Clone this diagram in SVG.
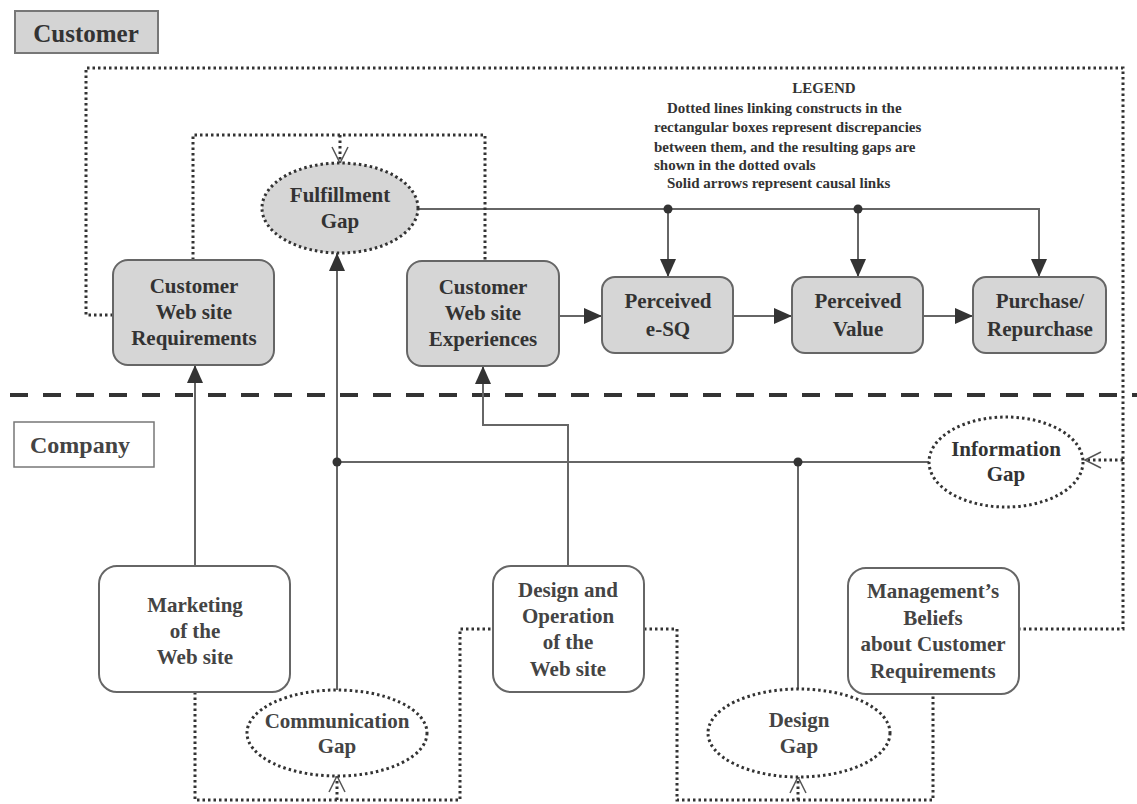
<svg xmlns="http://www.w3.org/2000/svg" width="1137" height="804" viewBox="0 0 1137 804">
<defs>
<style>
.bx{fill:#d6d6d6;stroke:#666;stroke-width:2}
.wb{fill:#fff;stroke:#666;stroke-width:2}
.t{font-family:"Liberation Serif","Times New Roman",serif;font-weight:bold;font-size:21px;fill:#333;text-anchor:middle}
.lg{font-family:"Liberation Serif","Times New Roman",serif;font-weight:bold;font-size:15px;fill:#333}
.sol{fill:none;stroke:#666;stroke-width:2}
.dot{fill:none;stroke:#333;stroke-width:3;stroke-dasharray:2.5 3}
.gapg{fill:#d6d6d6;stroke:#333;stroke-width:3;stroke-dasharray:2.5 3}
.gapw{fill:#fff;stroke:#333;stroke-width:3;stroke-dasharray:2.5 3}
.jn{fill:#333}
</style>
<marker id="ah" markerUnits="userSpaceOnUse" markerWidth="18" markerHeight="16" refX="18" refY="8" orient="auto" viewBox="0 0 18 16">
<path d="M0,0 L18,8 L0,16 z" fill="#333"/>
</marker>
<marker id="oh" markerUnits="userSpaceOnUse" markerWidth="20" markerHeight="18" refX="18" refY="9" orient="auto" viewBox="0 0 20 18">
<path d="M2,1 L18,9 L2,17" fill="none" stroke="#555" stroke-width="1.5"/>
</marker>
</defs>
<rect width="1137" height="804" fill="#fff"/>

<g id="lane-labels">
<rect x="15" y="11" width="143" height="42" fill="#d4d4d4" stroke="#777" stroke-width="2"/>
<text x="86" y="42" class="t" style="font-size:25px">Customer</text>
<rect x="14" y="422" width="140" height="45" fill="#fff" stroke="#777" stroke-width="1.5"/>
<text x="80" y="453" class="t" style="font-size:24px;fill:#444">Company</text>
<line x1="10" y1="395" x2="1137" y2="395" stroke="#333" stroke-width="4" stroke-dasharray="18 15"/>
</g>

<g id="legend">
<text x="824" y="93" class="lg" text-anchor="middle">LEGEND</text>
<text x="667" y="113" class="lg">Dotted lines linking constructs in the</text>
<text x="654" y="132" class="lg">rectangular boxes represent discrepancies</text>
<text x="654" y="152" class="lg">between them, and the resulting gaps are</text>
<text x="654" y="170" class="lg">shown in the dotted ovals</text>
<text x="667" y="188" class="lg">Solid arrows represent causal links</text>
</g>

<g id="connectors">
<path class="sol" d="M417,209 H1039 V277" marker-end="url(#ah)"/>
<path class="sol" d="M668,209 V277" marker-end="url(#ah)"/>
<path class="sol" d="M858,209 V277" marker-end="url(#ah)"/>
<circle class="jn" cx="668" cy="209" r="4.5"/>
<circle class="jn" cx="858" cy="209" r="4.5"/>
<path class="sol" d="M559,316 H602" marker-end="url(#ah)"/>
<path class="sol" d="M733,316 H792" marker-end="url(#ah)"/>
<path class="sol" d="M923,316 H973" marker-end="url(#ah)"/>
<path class="sol" d="M195,566 V365" marker-end="url(#ah)"/>
<path class="sol" d="M337,690 V253" marker-end="url(#ah)"/>
<path class="sol" d="M337,462 H929"/>
<path class="sol" d="M798,689 V462"/>
<circle class="jn" cx="337" cy="462" r="4.5"/>
<circle class="jn" cx="798" cy="462" r="4.5"/>
<path class="sol" d="M568,566 V425 H483 V366" marker-end="url(#ah)"/>
<path class="dot" d="M113,315 H86 V68 H1123 V629 H1019"/>
<path class="dot" d="M1123,460 H1085" marker-end="url(#oh)"/>
<path class="dot" d="M193,260 V135 H485 V261"/>
<path class="dot" d="M340,135 V163" marker-end="url(#oh)"/>
<path class="dot" d="M195,692 V800 H460 V629 H493"/>
<path class="dot" d="M337,800 V776" marker-end="url(#oh)"/>
<path class="dot" d="M644,629 H677 V800 H933 V694"/>
<path class="dot" d="M798,800 V777" marker-end="url(#oh)"/>
</g>

<g id="node-requirements">
<rect class="bx" x="113" y="260" width="161" height="105" rx="15"/>
<text class="t" x="194" y="293">Customer</text>
<text class="t" x="194" y="319">Web site</text>
<text class="t" x="194" y="345">Requirements</text>
</g>
<g id="node-experiences">
<rect class="bx" x="407" y="261" width="152" height="105" rx="15"/>
<text class="t" x="483" y="294">Customer</text>
<text class="t" x="483" y="320">Web site</text>
<text class="t" x="483" y="346">Experiences</text>
</g>
<g id="node-esq">
<rect class="bx" x="602" y="277" width="131" height="76" rx="13"/>
<text class="t" x="668" y="308">Perceived</text>
<text class="t" x="668" y="336">e-SQ</text>
</g>
<g id="node-value">
<rect class="bx" x="792" y="277" width="131" height="76" rx="13"/>
<text class="t" x="858" y="308">Perceived</text>
<text class="t" x="858" y="336">Value</text>
</g>
<g id="node-purchase">
<rect class="bx" x="973" y="277" width="133" height="76" rx="13"/>
<text class="t" x="1040" y="308">Purchase/</text>
<text class="t" x="1040" y="336">Repurchase</text>
</g>
<g id="node-fulfillment-gap">
<ellipse class="gapg" cx="340" cy="208" rx="78" ry="45"/>
<text class="t" x="340" y="202">Fulfillment</text>
<text class="t" x="340" y="228">Gap</text>
</g>
<g id="node-information-gap">
<ellipse class="gapw" cx="1006" cy="462" rx="77" ry="45"/>
<text class="t" x="1006" y="456">Information</text>
<text class="t" x="1006" y="481">Gap</text>
</g>
<g id="node-marketing">
<rect class="wb" x="99" y="566" width="191" height="126" rx="18"/>
<text class="t" x="195" y="612" style="fill:#444">Marketing</text>
<text class="t" x="195" y="638" style="fill:#444">of the</text>
<text class="t" x="195" y="664" style="fill:#444">Web site</text>
</g>
<g id="node-design-operation">
<rect class="wb" x="493" y="566" width="151" height="126" rx="18"/>
<text class="t" x="568" y="597" style="fill:#444">Design and</text>
<text class="t" x="568" y="623" style="fill:#444">Operation</text>
<text class="t" x="568" y="649" style="fill:#444">of the</text>
<text class="t" x="568" y="676" style="fill:#444">Web site</text>
</g>
<g id="node-management">
<rect class="wb" x="848" y="568" width="171" height="126" rx="18"/>
<text class="t" x="933" y="598" style="fill:#444">Management’s</text>
<text class="t" x="933" y="625" style="fill:#444">Beliefs</text>
<text class="t" x="933" y="651" style="fill:#444">about Customer</text>
<text class="t" x="933" y="678" style="fill:#444">Requirements</text>
</g>
<g id="node-communication-gap">
<ellipse class="gapw" cx="337" cy="733" rx="90" ry="43"/>
<text class="t" x="337" y="728" style="fill:#444">Communication</text>
<text class="t" x="337" y="753" style="fill:#444">Gap</text>
</g>
<g id="node-design-gap">
<ellipse class="gapw" cx="799" cy="733" rx="91" ry="44"/>
<text class="t" x="799" y="727" style="fill:#444">Design</text>
<text class="t" x="799" y="753" style="fill:#444">Gap</text>
</g>
</svg>
